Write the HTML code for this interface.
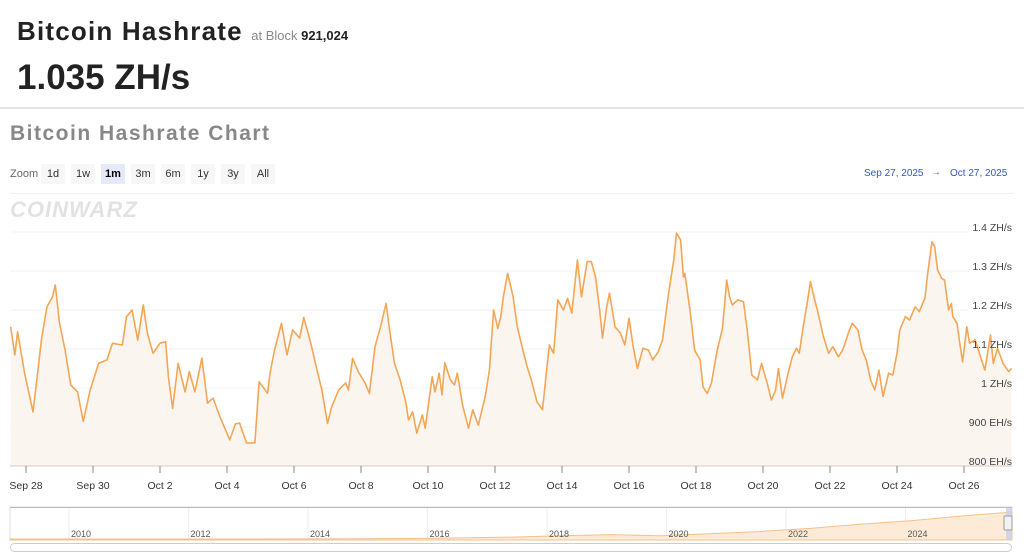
<!DOCTYPE html>
<html><head><meta charset="utf-8"><style>
*{margin:0;padding:0;box-sizing:border-box}
body{width:1024px;height:559px;background:#fff;font-family:"Liberation Sans",sans-serif;position:relative;overflow:hidden}
.abs{position:absolute}
.zb{position:absolute;top:164px;height:20px;line-height:20px;font-size:11px;color:#333;background:#f7f7f7;text-align:center;width:24px}
</style></head><body>
<div class="abs" style="left:17px;top:16px;font-size:26px;font-weight:bold;color:#222;letter-spacing:1.2px">Bitcoin Hashrate <span style="font-size:13px;font-weight:normal;color:#888;letter-spacing:0">at Block <b style="color:#222">921,024</b></span></div>
<div class="abs" style="left:17px;top:58px;font-size:35px;font-weight:bold;color:#222">1.035 ZH/s</div>
<div class="abs" style="left:0;top:107px;width:1024px;height:2px;background:#e4e4e4"></div>
<div class="abs" style="left:10px;top:122px;font-size:21px;font-weight:bold;color:#888;letter-spacing:1.5px">Bitcoin Hashrate Chart</div>
<div class="abs" style="left:10px;top:168px;font-size:11px;color:#666">Zoom</div>
<div class="zb" style="left:41px">1d</div>
<div class="zb" style="left:71px">1w</div>
<div class="zb" style="left:101px;background:#e6e9fa;font-weight:bold;color:#000">1m</div>
<div class="zb" style="left:131px">3m</div>
<div class="zb" style="left:161px">6m</div>
<div class="zb" style="left:191px">1y</div>
<div class="zb" style="left:221px">3y</div>
<div class="zb" style="left:251px">All</div>
<div class="abs" style="left:864px;top:168px;font-size:10px;color:#3355cc">Sep 27, 2025</div>
<div class="abs" style="left:931px;top:167px;font-size:10px;color:#666">→</div>
<div class="abs" style="left:950px;top:168px;font-size:10px;color:#3355cc">Oct 27, 2025</div>
<div class="abs" style="left:10px;top:193px;width:1004px;height:1px;background:#eee"></div>
<div class="abs" style="left:10px;top:197px;font-size:22px;font-weight:900;color:#e2e2e2;letter-spacing:1px;font-style:italic">COINWARZ</div>
<svg class="abs" style="left:0;top:0" width="1024" height="559" id="chart"></svg>
<script>
const hours=[-11,-8,-6,-1,5,8,11,15,19,21,24,28,32,37,41,46,52,58,62,69,72,76,80,84,87,91,96,100,102,105,109,114,117,121,126,130,134,139,146,150,153,158,164,167,173,175,178,183,187,191,196,199,204,209,212,216,219,224,229,231,234,238,243,246,250,254,258,261,264,268,272,274,277,280,284,286,291,293,296,298,300,304,307,309,313,317,320,324,329,332,335,338,340,342,345,349,352,356,359,362,366,370,373,375,378,381,385,388,391,395,398,402,405,408,411,413,416,418,422,426,429,432,435,438,442,446,449,453,456,460,464,466,469,471,472,476,479,483,485,488,491,495,499,502,504,506,510,514,517,520,524,527,531,534,537,539,542,546,549,552,554,557,560,562,565,567,571,575,578,582,585,590,592,596,599,602,605,608,611,614,618,621,624,626,630,633,637,640,644,646,649,651,653,656,658,661,663,664,667,669,671,674,676,680,683,687,691,693,696,700,704,706];
const hashrate=[1.157,1.085,1.144,1.038,0.939,1.029,1.123,1.208,1.234,1.264,1.167,1.097,1.008,0.99,0.914,0.995,1.063,1.072,1.115,1.11,1.183,1.2,1.123,1.213,1.14,1.089,1.115,1.119,1.029,0.948,1.063,0.99,1.042,0.99,1.077,0.961,0.974,0.926,0.867,0.908,0.91,0.859,0.859,1.016,0.987,1.042,1.097,1.166,1.085,1.149,1.128,1.181,1.115,1.038,0.995,0.909,0.952,0.995,1.013,0.995,1.076,1.042,1.012,0.986,1.106,1.157,1.217,1.136,1.063,1.021,0.965,0.918,0.939,0.884,0.931,0.897,1.029,0.99,1.038,0.982,1.065,1.021,1.008,1.038,0.952,0.897,0.944,0.905,0.978,1.046,1.2,1.153,1.18,1.234,1.294,1.234,1.157,1.097,1.055,1.021,0.965,0.944,1.046,1.11,1.089,1.226,1.2,1.23,1.192,1.328,1.234,1.324,1.324,1.285,1.2,1.128,1.208,1.243,1.157,1.14,1.11,1.179,1.106,1.05,1.102,1.097,1.072,1.093,1.123,1.234,1.328,1.397,1.38,1.285,1.294,1.192,1.097,1.072,1.003,0.986,1.012,1.093,1.153,1.277,1.234,1.213,1.226,1.221,1.14,1.033,1.021,1.063,1.012,0.969,0.995,1.05,0.974,1.038,1.08,1.102,1.089,1.162,1.226,1.273,1.226,1.2,1.136,1.089,1.106,1.08,1.097,1.149,1.166,1.149,1.097,1.072,1.021,0.995,1.046,0.978,1.038,1.033,1.089,1.149,1.183,1.174,1.208,1.196,1.23,1.294,1.375,1.362,1.303,1.281,1.277,1.2,1.217,1.183,1.166,1.115,1.067,1.157,1.115,1.123,1.089,1.046,1.136,1.063,1.102,1.063,1.042,1.05];
const yTicks=[0.8,0.9,1.0,1.1,1.2,1.3,1.4];
const yTickLabels=["800 EH/s","900 EH/s","1 ZH/s","1.1 ZH/s","1.2 ZH/s","1.3 ZH/s","1.4 ZH/s"];
const xTickDays=[0,2,4,6,8,10,12,14,16,18,20,22,24,26,28];
const xTickLabels=["Sep 28","Sep 30","Oct 2","Oct 4","Oct 6","Oct 8","Oct 10","Oct 12","Oct 14","Oct 16","Oct 18","Oct 20","Oct 22","Oct 24","Oct 26"];
const navYears=["2010","2012","2014","2016","2018","2020","2022","2024"];
const navValues=[0,0,0,0,0,0.002,0.005,0.01,0.02,0.04,0.07,0.12,0.16,0.12,0.2,0.28,0.4,0.55,0.68,0.85,1.0];

const NS="http://www.w3.org/2000/svg";
const svg=document.getElementById('chart');
function mk(t,a,p){const e=document.createElementNS(NS,t);for(const k in a)e.setAttribute(k,a[k]);(p||svg).appendChild(e);return e;}
const xS=h=>26+h/24*33.5;
const xD=d=>26+d*33.5;
const yS=v=>466-(v-0.8)*390;

yTicks.forEach((v,i)=>{
  if(i>0){const g=mk('line',{x1:10,x2:968,y1:yS(v),y2:yS(v),stroke:'#f0f0f0','stroke-width':1});
  
  }
});
let d='M'+xS(hours[0])+','+yS(hashrate[0]);
for(let i=1;i<hours.length;i++)d+='L'+xS(hours[i]).toFixed(1)+','+yS(hashrate[i]).toFixed(1);
const area=mk('path',{d:d+'L'+xS(hours[hours.length-1])+',466L'+xS(hours[0])+',466Z',fill:'#fbf5f0'});


const line=mk('path',{d:d,fill:'none',stroke:'#f4a654','stroke-width':1.6,'stroke-linejoin':'round'});


yTicks.forEach((v,i)=>{
  const t=mk('text',{x:1012,y:yS(v)-1,'text-anchor':'end','font-size':10.5,fill:'#444','font-family':'Liberation Sans, sans-serif'});
  t.textContent=yTickLabels[i];
  
  
});
const ax=mk('line',{x1:10,x2:1012,y1:466,y2:466,stroke:'#ccc'});


xTickDays.forEach((dd,i)=>{
  const tk=mk('line',{x1:xD(dd),x2:xD(dd),y1:466,y2:473,stroke:'#888'});
  
  
  const t=mk('text',{x:xD(dd),y:489,'text-anchor':'middle','font-size':10.5,fill:'#333','font-family':'Liberation Sans, sans-serif'});
  t.textContent=xTickLabels[i];
  
  
});
// navigator
const nb=mk('rect',{x:10,y:507,width:1002,height:33,fill:'#fff',stroke:'#ddd'});


const nt=mk('line',{x1:10,x2:1012,y1:507.5,y2:507.5,stroke:'#bbb'});


navYears.forEach((yr,i)=>{
  const x=69+i*119.5;
  const l=mk('line',{x1:x,x2:x,y1:508,y2:540,stroke:'#eee'});
  
  
});
let nd='';
navValues.forEach((v,i)=>{const x=10+i*(1002/(navValues.length-1));nd+=(i?'L':'M')+x+','+(539-v*27);});
const na=mk('path',{d:nd+'L1012,540L10,540Z',fill:'#fdebd8',stroke:'#f4c08a','stroke-width':1});


navYears.forEach((yr,i)=>{
  const x=69+i*119.5;
  const t=mk('text',{x:x+2,y:537,'font-size':9,fill:'#555','font-family':'Liberation Sans, sans-serif'});
  t.textContent=yr;
  
  
});
const sel=mk('rect',{x:1006,y:508,width:6,height:32,fill:'#c8cdf0',opacity:0.8});


const hd=mk('rect',{x:1004,y:516,width:8,height:14,fill:'#f2f2f2',stroke:'#999',rx:1});


const sb=mk('rect',{x:10.5,y:543.5,width:1001,height:8,fill:'#fff',stroke:'#ccc',rx:4});


</script>
</body></html>
